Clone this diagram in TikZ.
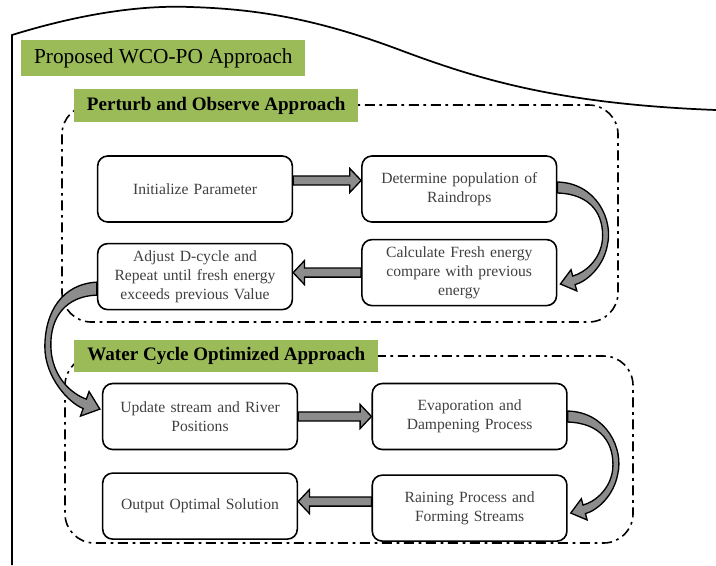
\documentclass[tikz,border=0pt]{standalone}
\usepackage{fontspec}
\setmainfont{Liberation Serif}
\usepackage{tikz}
\usetikzlibrary{positioning,calc}

\definecolor{labelgreen}{HTML}{9BBB59}
\definecolor{boxtext}{HTML}{404040}

% straight block arrow, at the height of the first point
\newcommand{\hblock}[2]{%
  \draw[blockarrow] let \p1=#1, \p2=#2, \n1={sign(\x2-\x1)*8.5} in
    (\x1,{\y1+3.4pt}) -- ({\x2-(\n1)},{\y1+3.4pt}) -- ({\x2-(\n1)},{\y1+9pt})
    -- (\x2,\y1) -- ({\x2-(\n1)},{\y1-9pt}) -- ({\x2-(\n1)},{\y1-3.4pt})
    -- (\x1,{\y1-3.4pt}) -- cycle;}
% curved block arrow turning down on the right side
\newcommand{\bendright}[1]{%
  \draw[blockarrow, shift={#1}] (0,-10) .. controls (39,-9) and (56,28) .. (50,53)
    .. controls (46,75) and (29.3,89.4) .. (17.7,92.6) -- (19.4,98.9) -- (3,92)
    -- (13.6,77.7) -- (15.3,84) .. controls (27,81) and (43,68) .. (45,48)
    .. controls (47,23) and (34,2) .. (0,1) -- cycle;}

\begin{document}
\begin{tikzpicture}[
x=0.75pt, y=-0.75pt,
stepbox/.style={draw, line width=1.2pt, rounded corners=7.5pt, minimum width=146pt,
  minimum height=49.5pt, text width=135pt, align=center, text=boxtext,
  font=\fontsize{11.7}{14.2}\selectfont},
greenlabel/.style={fill=labelgreen, anchor=west, inner sep=0pt, align=center},
groupframe/.style={line width=1.2pt, rounded corners=22pt,
  dash pattern=on 7.5pt off 3.5pt on 2pt off 3.5pt},
blockarrow/.style={draw, line width=1pt, fill=black!45, line join=miter}
]
\useasboundingbox (0,0) rectangle (716,565);

% outer frame
\draw[line width=1.3pt] (12,565) -- (12,35) .. controls (80,14) and (140,5) .. (190,7)
  .. controls (260,9) and (320,20) .. (400,50) .. controls (480,80) and (560,104) .. (716,110);

% group frames
\draw[groupframe] (62,105) rectangle (618,322);
\draw[groupframe] (65,356) rectangle (633,543);

% Labels
\node[greenlabel, minimum width=213pt, minimum height=27pt,
  font=\fontsize{16}{19}\selectfont] (title) at (21,58) {Proposed WCO-PO Approach};
\node[greenlabel, minimum width=213pt, minimum height=24.75pt,
  font=\bfseries\fontsize{14.3}{17}\selectfont] (polabel) at (74,105.5) {Perturb and Observe Approach};
\node[greenlabel, minimum width=228pt, minimum height=24pt,
  font=\bfseries\fontsize{14.3}{17}\selectfont] (wcolabel) at (74,356) {Water Cycle Optimized Approach};

% Perturb and Observe steps
\node[stepbox] (init) at (195,189) {Initialize Parameter};
\node[stepbox, right=51pt of init] (det) {Determine population of\\Raindrops};
\node[stepbox, below=12pt of det] (calc) {Calculate Fresh energy\\compare with previous\\energy};
\node[stepbox, below=15pt of init] (adjust) {Adjust D-cycle and\\Repeat until fresh energy\\exceeds previous Value};

% Water cycle steps
\node[stepbox] (update) at (200,416.5) {Update stream and River\\Positions};
\node[stepbox, right=55pt of update] (evap) {Evaporation and\\Dampening Process};
\node[stepbox, below=18pt of evap] (rain) {Raining Process and\\Forming Streams};
\node[stepbox, below=16.5pt of update] (output) {Output Optimal Solution};

% Arrows
\hblock{([yshift=6.4pt]init.east)}{(det.west)}
\bendright{([yshift=-2.25pt]det.east)}
\hblock{(calc.west)}{(adjust.east)}
\draw[blockarrow, shift={(adjust.west)}] (0,5.5) .. controls (-35,7.5) and (-52,35.5) .. (-52,70.5)
  .. controls (-52,100.5) and (-28,126.5) .. (-13.7,131.9) -- (-16.4,139.5) -- (3,132.5)
  -- (-7.8,114.9) -- (-10.5,122.5) .. controls (-25,117.5) and (-45,100.5) .. (-46,70.5)
  .. controls (-47,40.5) and (-31,19.5) .. (0,18.5) -- cycle;
\hblock{(update.east)}{(evap.west)}
\bendright{([yshift=-3.4pt]evap.east)}
\hblock{([yshift=4.9pt]rain.west)}{(output.east)}
\end{tikzpicture}
\end{document}
